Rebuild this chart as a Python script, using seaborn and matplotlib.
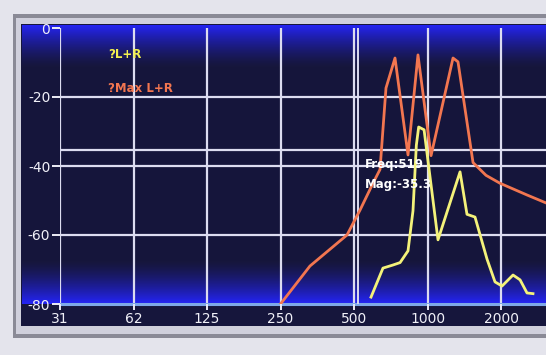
import numpy as np
import pandas as pd
import matplotlib
matplotlib.use("Agg")
import matplotlib.pyplot as plt
from matplotlib.patches import Rectangle
import seaborn as sns

# ---- data ----
max_freq = [250, 330, 468, 529, 598, 639, 676, 736, 832, 914, 1034, 1272, 1333, 1536, 1736, 1981, 2556, 3057]
max_db = [-80, -69, -60, -52.8, -45, -41, -17.4, -8.7, -36.8, -7.8, -37, -8.7, -9.8, -39, -42.7, -45, -48.4, -50.7]

lr_freq = [587, 657, 722, 772, 832, 872, 900, 920, 968, 1104, 1359, 1451, 1565, 1753, 1890, 2019, 2240, 2394, 2556, 2704]
lr_db = [-78, -69.6, -68.7, -68, -64.6, -53, -34, -28.7, -29.5, -61.4, -41.7, -54, -54.8, -67, -73.6, -74.8, -71.6, -73, -76.8, -77]

tick_freqs = [31.25, 62.5, 125, 250, 500, 1000, 2000]
tick_labels = ["31", "62", "125", "250", "500", "1000", "2000"]
db_ticks = [0, -20, -40, -60, -80]
db_labels = ["0", "-20", "-40", "-60", "-80"]

cursor_freq = 519
cursor_mag = -35.3
series_names = ["?L+R", "?Max L+R"]

W, H = 546, 355
fig = plt.figure(figsize=(W / 100, H / 100), dpi=100)
fig.patch.set_facecolor("#e4e4ec")

def fr(x0, y0_top, x1, y1_top):
    return (x0 / W, 1 - y1_top / H), (x1 - x0) / W, (y1_top - y0_top) / H

# frame decorations
for (x0, y0, x1, y1, c) in [(13, 14, 560, 338, "#8a8a96"),
                            (16, 18, 560, 334, "#d0d0dc"),
                            (21, 24, 560, 326, "#16163c")]:
    xy, w, h = fr(x0, y0, x1, y1)
    fig.patches.append(Rectangle(xy, w, h, transform=fig.transFigure,
                                 facecolor=c, edgecolor="none", zorder=-5))

left, top, bottom = 60, 28, 304
rect = [left / W, 1 - bottom / H, 1 - left / W, (bottom - top) / H]

# background gradient (screen glow), spanning the dark panel width
bg_left, bg_top = 22, 25
bg = fig.add_axes([bg_left / W, 1 - bottom / H, 1 - bg_left / W, (bottom - bg_top) / H], zorder=0)
n = bottom - bg_top
t = np.arange(n)
dark = np.array([0.086, 0.086, 0.235])
blue = np.array([0.14, 0.14, 0.94])
a_top = np.clip(1 - t / 42.0, 0, 1) ** 1.4
a_bot = np.clip((t - (n - 44)) / 42.0, 0, 1) ** 1.4
a = np.maximum(a_top, a_bot)
img = dark[None, :] * (1 - a[:, None]) + blue[None, :] * a[:, None]
img = np.repeat(img[:, None, :], 4, axis=1)
bg.imshow(img, aspect="auto", extent=[0, 1, 0, 1], interpolation="bilinear")
bg.set_axis_off()

ax = fig.add_axes(rect, zorder=1)
ax.set_facecolor("none")
ax.set_xscale("log", base=2)
ax.set_xlim(31.25, 3057)
ax.set_ylim(-80, 0)

grid_c = "#dcdcf0"
for f in tick_freqs:
    ax.axvline(f, color=grid_c, lw=1.6, zorder=1)
for d in [-20, -40, -60]:
    ax.axhline(d, color=grid_c, lw=1.6, zorder=1)
ax.axhline(-80, color="#7ea8e8", lw=2.2, zorder=1, clip_on=False)

# cursor
ax.axvline(cursor_freq, color=grid_c, lw=1.4, zorder=1)
ax.axhline(cursor_mag, color=grid_c, lw=1.6, zorder=1)

df_max = pd.DataFrame({"freq": max_freq, "db": max_db})
df_lr = pd.DataFrame({"freq": lr_freq, "db": lr_db})
sns.lineplot(data=df_max, x="freq", y="db", ax=ax, color="#f27650", lw=2.0, estimator=None, zorder=3)
sns.lineplot(data=df_lr, x="freq", y="db", ax=ax, color="#f4f27a", lw=2.0, estimator=None, zorder=4)

ax.set_xlabel("")
ax.set_ylabel("")
ax.set_xticks(tick_freqs)
ax.set_xticklabels(tick_labels)
ax.set_yticks(db_ticks)
ax.set_yticklabels(db_labels)
ax.xaxis.set_minor_locator(matplotlib.ticker.NullLocator())
ax.tick_params(axis="both", colors="#ececf6", labelcolor="#f0f0f8", labelsize=10, width=1.4)
ax.tick_params(axis="x", length=4, pad=2)
ax.tick_params(axis="y", length=6, pad=1)
for s in ax.spines.values():
    s.set_visible(False)

ax.text(49.2, -7.8, series_names[0], color="#f2f050", fontsize=8.5, fontweight="bold", va="center", ha="left", zorder=5)
ax.text(49.2, -17.4, series_names[1], color="#f27650", fontsize=8.5, fontweight="bold", va="center", ha="left", zorder=5)
ax.text(555, -39.7, f"Freq:{cursor_freq}", color="white", fontsize=8.5, fontweight="bold", va="center", ha="left", zorder=5)
ax.text(555, -45.5, f"Mag:{cursor_mag}", color="white", fontsize=8.5, fontweight="bold", va="center", ha="left", zorder=5)

fig.savefig("out.png", dpi=100, facecolor=fig.get_facecolor())
